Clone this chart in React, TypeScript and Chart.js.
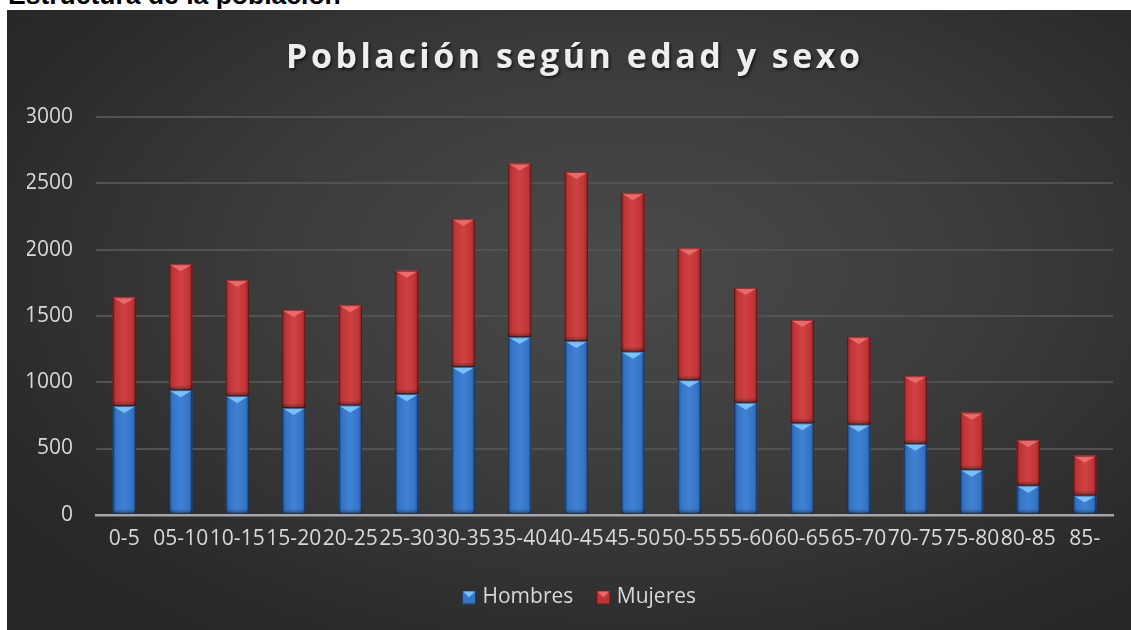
import React, { useEffect, useRef } from "react";
import { Chart, registerables } from "chart.js";

Chart.register(...registerables);

const categories = ["0-5", "05-10", "10-15", "15-20", "20-25", "25-30", "30-35", "35-40", "40-45", "45-50", "50-55", "55-60", "60-65", "65-70", "70-75", "75-80", "80-85", "85-"];
const hombres = [820, 940, 895, 805, 825, 910, 1115, 1340, 1310, 1230, 1015, 845, 690, 680, 535, 340, 220, 145];
const mujeres = [820, 950, 875, 740, 755, 930, 1115, 1310, 1275, 1195, 995, 865, 780, 660, 510, 430, 345, 300];
const seriesNames = ["Hombres", "Mujeres"];
const yTicks = [0, 500, 1000, 1500, 2000, 2500, 3000];
const chartTitle = "Población según edad y sexo";
const heading = "Estructura de la población";

const palettes = [
  { edge: "#24508f", body: "#3674c4", mid: "#3f82d4", bevel: "#7cc0f8" },
  { edge: "#8e2426", body: "#bf3536", mid: "#cf4142", bevel: "#ea6a6a" },
];

const FONT = "'Open Sans', 'Noto Sans', sans-serif";

function makeSwatch(p: { edge: string; body: string; mid: string; bevel: string }) {
  const c = document.createElement("canvas");
  c.width = 14;
  c.height = 14;
  const x = c.getContext("2d")!;
  x.fillStyle = p.body;
  x.fillRect(0, 0, 14, 14);
  x.fillStyle = p.bevel;
  x.beginPath();
  x.moveTo(0, 0);
  x.lineTo(14, 0);
  x.lineTo(7, 7);
  x.closePath();
  x.fill();
  x.strokeStyle = "rgba(0,0,0,0.5)";
  x.lineWidth = 1;
  x.strokeRect(0.5, 0.5, 13, 13);
  return c;
}

const bevelPlugin = {
  id: "bevel",
  afterDatasetsDraw(chart: any) {
    const ctx = chart.ctx as CanvasRenderingContext2D;
    chart.data.datasets.forEach((_ds: any, i: number) => {
      const meta = chart.getDatasetMeta(i);
      const pal = palettes[i];
      meta.data.forEach((el: any) => {
        const { x, y, base, width } = el.getProps(["x", "y", "base", "width"], true);
        const l = x - width / 2;
        const r = x + width / 2;
        const t = Math.min(y, base);
        const b = Math.max(y, base);
        ctx.save();
        const g = ctx.createLinearGradient(l, 0, r, 0);
        g.addColorStop(0, pal.edge);
        g.addColorStop(0.15, pal.body);
        g.addColorStop(0.5, pal.mid);
        g.addColorStop(0.85, pal.body);
        g.addColorStop(1, pal.edge);
        ctx.fillStyle = g;
        ctx.fillRect(l, t, width, b - t);
        const gb = ctx.createLinearGradient(0, b - 5, 0, b);
        gb.addColorStop(0, "rgba(0,0,0,0)");
        gb.addColorStop(1, "rgba(0,0,0,0.35)");
        ctx.fillStyle = gb;
        ctx.fillRect(l, b - 5, width, 5);
        ctx.beginPath();
        ctx.moveTo(l, t);
        ctx.lineTo(r, t);
        ctx.lineTo(x, t + 7);
        ctx.closePath();
        ctx.fillStyle = pal.bevel;
        ctx.fill();
        ctx.strokeStyle = "rgba(0,0,0,0.45)";
        ctx.lineWidth = 1;
        ctx.strokeRect(l + 0.5, t + 0.5, width - 1, b - t - 1);
        ctx.restore();
      });
    });
  },
};

const titlePlugin = {
  id: "spacedTitle",
  beforeDraw(chart: any) {
    const lg = chart.legend;
    if (lg && !lg._shifted) {
      lg.left += 22;
      lg._shifted = true;
    }
  },
  afterDraw(chart: any) {
    const ctx = chart.ctx as any;
    ctx.save();
    ctx.font = `bold 34px ${FONT}`;
    ctx.letterSpacing = "3.5px";
    ctx.textAlign = "center";
    ctx.textBaseline = "alphabetic";
    ctx.shadowColor = "rgba(0,0,0,0.6)";
    ctx.shadowOffsetX = 1.5;
    ctx.shadowOffsetY = 1.5;
    ctx.shadowBlur = 3;
    ctx.fillStyle = "#eeeeee";
    ctx.fillText(chartTitle, 566 + 1.8, 58);
    ctx.restore();
  },
};

export default function App() {
  const ref = useRef<HTMLCanvasElement>(null);
  useEffect(() => {
    const swatches = palettes.map(makeSwatch);
    const chart = new Chart(ref.current!, {
      type: "bar",
      data: {
        labels: categories,
        datasets: [
          { label: seriesNames[0], data: hombres, backgroundColor: palettes[0].body },
          { label: seriesNames[1], data: mujeres, backgroundColor: palettes[1].body },
        ],
      },
      options: {
        animation: false,
        responsive: false,
        layout: { padding: { top: 107, left: 20, right: 18, bottom: 12 } },
        datasets: { bar: { categoryPercentage: 1, barPercentage: 0.41 } },
        scales: {
          x: {
            stacked: true,
            grid: { display: false },
            border: { color: "#a6a6a6", width: 2.5 },
            afterFit: (axis: any) => {
              axis.height += 4;
            },
            ticks: {
              autoSkip: false,
              maxRotation: 0,
              minRotation: 0,
              color: "#d9d9d9",
              font: { family: FONT, size: 21 },
              padding: 4,
            },
          },
          y: {
            stacked: true,
            min: 0,
            max: 3000,
            afterBuildTicks: (axis: any) => {
              axis.ticks = yTicks.map((v) => ({ value: v }));
            },
            afterFit: (axis: any) => {
              axis.width = 69;
            },
            grid: { color: "#525252", lineWidth: 2, drawTicks: false },
            border: { display: false },
            ticks: {
              color: "#d9d9d9",
              font: { family: FONT, size: 21 },
              padding: 23,
              callback: (v: any) => String(v),
            },
          },
        },
        plugins: {
          title: { display: false },
          tooltip: { enabled: false },
          legend: {
            position: "bottom",
            labels: {
              color: "#d9d9d9",
              font: { family: FONT, size: 21 },
              usePointStyle: true,
              boxWidth: 6,
              boxHeight: 14,
              padding: 27,
              generateLabels: (c: any) => {
                const items = (Chart.defaults.plugins.legend.labels as any).generateLabels(c);
                items.forEach((it: any, i: number) => {
                  it.pointStyle = swatches[i];
                });
                return items;
              },
            },
          },
        },
      },
      plugins: [bevelPlugin, titlePlugin],
    } as any);
    return () => chart.destroy();
  }, []);

  return (
    <div style={{ position: "absolute", left: 0, top: 0, width: 1131, height: 630, background: "#ffffff", overflow: "hidden" }}>
      <div
        style={{
          position: "absolute",
          left: 8,
          top: -18,
          fontFamily: "'Liberation Sans', Arial, sans-serif",
          fontWeight: "bold",
          fontSize: 26.5,
          lineHeight: "26.5px",
          color: "#000",
          whiteSpace: "nowrap",
        }}
      >
        {heading}
      </div>
      <div
        style={{
          position: "absolute",
          left: 7,
          top: 10,
          width: 1124,
          height: 620,
          background: "radial-gradient(ellipse 70% 75% at 55% 42%, #4a4a4a 0%, #3c3c3c 45%, #2a2a2a 85%, #262626 100%)",
        }}
      >
        <canvas ref={ref} width={1124} height={620} style={{ display: "block" }} />
      </div>
    </div>
  );
}
